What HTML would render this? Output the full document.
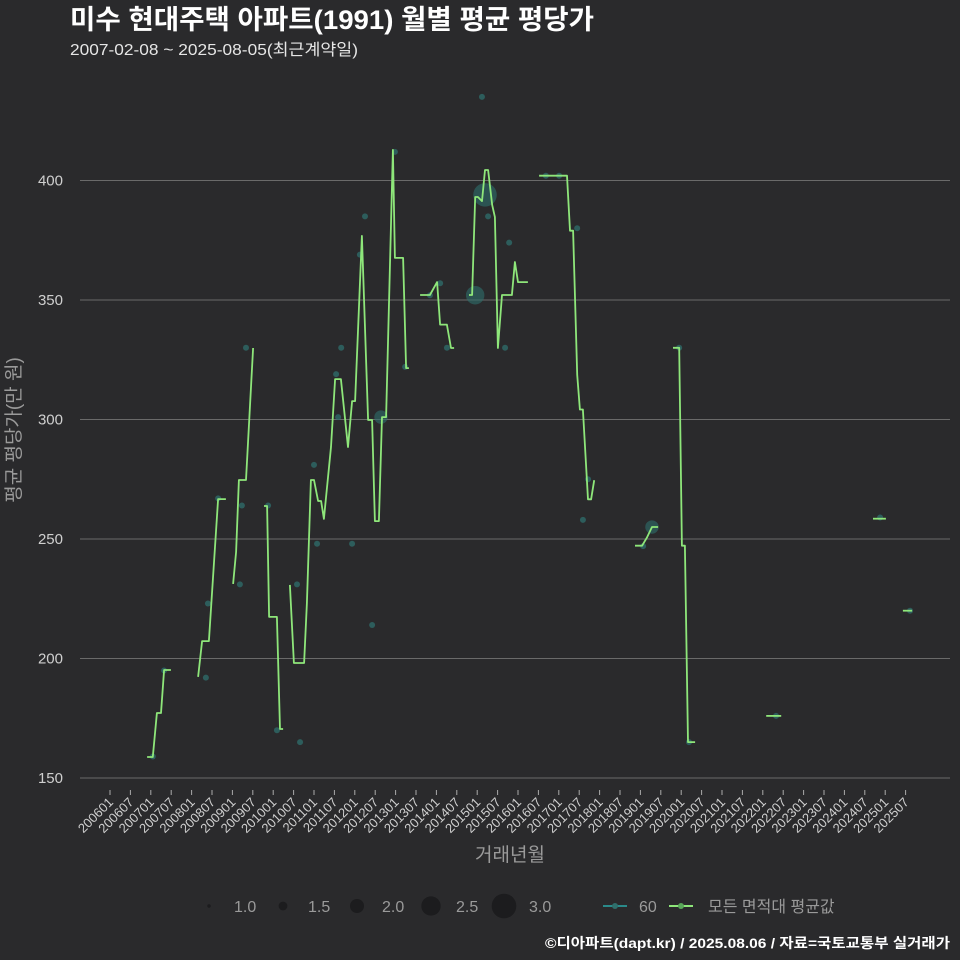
<!DOCTYPE html>
<html><head><meta charset="utf-8"><style>
body{margin:0;background:#2a2a2c;}
svg{display:block;font-family:"Liberation Sans","Noto Sans CJK KR",sans-serif;}
</style></head><body>
<svg id="chart" width="960" height="960" viewBox="0 0 960 960" xmlns="http://www.w3.org/2000/svg">
<rect width="960" height="960" fill="#2a2a2c"/>
<text x="70" y="29" fill="#ffffff" font-size="27" font-weight="bold" textLength="524" lengthAdjust="spacingAndGlyphs">미수 현대주택 아파트(1991) 월별 평균 평당가</text>
<text x="70" y="55" fill="#e6e6e6" font-size="16" textLength="288" lengthAdjust="spacingAndGlyphs">2007-02-08 ~ 2025-08-05(최근계약일)</text>
<g id="grid"></g>
<g id="yticks"></g>
<g id="xticks"></g>
<g id="dots"></g>
<g id="lines"></g>
<text x="20" y="430" fill="#9a9a9a" font-size="19" transform="rotate(-90 20 430)" text-anchor="middle">평균 평당가(만 원)</text>
<text x="510" y="861" fill="#9a9a9a" font-size="19" text-anchor="middle">거래년월</text>
<g id="legend"></g>
<text x="950" y="948" fill="#ffffff" font-size="14" font-weight="bold" text-anchor="end" textLength="405" lengthAdjust="spacingAndGlyphs">©디아파트(dapt.kr) / 2025.08.06 / 자료=국토교통부 실거래가</text>
</svg>
<script>
// months since 2006-01 ; null separates segments
const lineMonths=[10.9,12.6,13.8,15,15.9,17.9,null,25.9,27.1,29.1,31.8,34.1,null,36.2,37.1,37.9,40,42.1,null,45.3,46.2,46.8,49.1,50,50.9,null,
52.9,54.1,57.1,57.9,59.1,60,61.2,62.1,62.9,65,66.2,67.9,70,71.2,72.1,74.1,75.9,77.1,77.9,79.1,80,81.2,83.2,83.8,86.2,87.1,87.9,null,
91.2,94.1,96.2,97.1,99.1,100.3,101.2,null,105.6,106.5,107.4,108.2,109.4,110.3,111.2,112.4,113.2,114.1,115.3,118.2,119.1,120,122.9,null,
126.2,134.4,135.3,136.2,137.4,138.2,139.1,140.6,141.5,142.4,null,154.4,156.5,157.9,159.4,161.2,null,165.6,167.4,168.2,169.1,170,172.1,null,
193,197.4,null,224.4,228.2,null,233.2,235.9];
const lineValues=[158.8,158.8,177.2,177.2,195.2,195.2,null,192.3,207.3,207.3,266.7,266.7,null,231.2,244.6,274.7,274.7,329.9,null,263.8,263.8,217.4,217.4,170.5,170.5,null,
230.8,198.1,198.1,223.2,274.7,274.7,265.9,265.9,258.4,288.5,316.9,316.9,288.5,307.7,307.7,376.8,299.8,299.8,257.5,257.5,301,301,412.8,367.6,367.6,321.5,321.5,null,
352.1,352.1,357.5,339.7,339.7,329.9,329.9,null,352.1,352.1,393.1,393.1,391.4,404.4,404.4,389.7,384.7,329.9,352.1,352.1,365.9,357.5,357.5,null,
402,402,379,379,318.7,304.2,304.2,266.6,266.6,274.6,null,247.2,247.2,250.6,255,255,null,330,330,247.2,247.2,165,165,null,
176,176,null,258.5,258.5,null,220,220];
const dotMonths=[12.6,15.9,28.2,28.8,31.8,38.2,38.8,40,46.5,49.1,55,55.9,60,60.9,66.5,68,67.1,71.2,75,77.1,73.5,79.7,83.8,86.8,94.1,97.1,99.1,107.4,109.4,110.3,111.2,116.2,117.4,128.2,132.1,137.4,139.1,140.6,156.8,159.4,167.4,170.3,195.9,226.5,235.3];
const dotValues=[159,195,192,223,267,231,264,330,264,170,231,165,281,248,319,330,301,248,385,214,369,301,412,322,352,357,330,352,435,394,385,330,374,402,402,380,258,275,247,255,330,165,176,259,220];
const dotCounts=[1,1,1,1,1,1,1,1,1,1,1,1,1,1,1,1,1,1,1,1,1,2,1,1,1,1,1,2.5,1,3,1,1,1,1,1,1,1,1,1,2,1,1,1,1,1];
const yTicks=[150,200,250,300,350,400];
const xTickLabels=[];for(let y=2006;y<=2025;y++){xTickLabels.push(y+"01");xTickLabels.push(y+"07");}
const sizeLegend=[1.0,1.5,2.0,2.5,3.0];

const NS="http://www.w3.org/2000/svg";
const X=m=>110+m*3.4;
const Y=v=>778-(v-150)*2.39;
const R=c=>1.5+(c-1)*4.6;
function mk(tag,attrs,parent){const e=document.createElementNS(NS,tag);for(const k in attrs)e.setAttribute(k,attrs[k]);parent.appendChild(e);return e;}
const grid=document.getElementById('grid'),yt=document.getElementById('yticks'),xt=document.getElementById('xticks');
yTicks.forEach(v=>{
  const l=mk('line',{x1:80,x2:950,y1:Y(v),y2:Y(v),stroke:'#6a6a6a','stroke-width':1},grid);
  
  
  const t=mk('text',{x:63,y:Y(v)+5,fill:'#cfcfcf','font-size':15,'text-anchor':'end'},yt);
  t.textContent=v;
  
  
});
xTickLabels.forEach((lab,i)=>{
  const x=X(i*6);
  const tk=mk('line',{x1:x,x2:x,y1:790,y2:795,stroke:'#aaaaaa'},xt);
  
  
  const t=mk('text',{x:x+4,y:803,fill:'#cfcfcf','font-size':13,'text-anchor':'end',transform:`rotate(-45 ${x+4} 803)`},xt);
  t.textContent=lab;
  
  
});
const dots=document.getElementById('dots');
dotMonths.forEach((m,i)=>{
  const c=mk('circle',{cx:X(m),cy:Y(dotValues[i]),r:dotCounts[i]>1?R(dotCounts[i])*1.1:3,fill:'#2f6f6c','fill-opacity':dotCounts[i]>1?0.6:0.75},dots);
  
  
});
const lines=document.getElementById('lines');
let seg=[];
function flush(){if(seg.length>1){const p=mk('polyline',{points:seg.join(' '),fill:'none',stroke:'#8ee67a','stroke-width':1.8,'stroke-linejoin':'round'},lines);
  
  }seg=[];}
lineMonths.forEach((m,i)=>{if(m===null){flush();}else seg.push(X(m).toFixed(1)+','+Y(lineValues[i]).toFixed(1));});
flush();
const lg=document.getElementById('legend');
const lx=[209,283,357,431,504];
sizeLegend.forEach((s,i)=>{
  const c=mk('circle',{cx:lx[i],cy:906,r:R(s)*1.15,fill:'#1c1c1e'},lg);
  
  
  const t=mk('text',{x:lx[i]+25,y:912,fill:'#9a9a9a','font-size':16},lg);
  t.textContent=s.toFixed(1);
  
  
});
const e1=mk('line',{x1:603,x2:627,y1:906,y2:906,stroke:'#2a8a8a','stroke-width':2},lg);


const d1=mk('circle',{cx:615,cy:906,r:3,fill:'#2f6f6c'},lg);


const t1=mk('text',{x:639,y:912,fill:'#9a9a9a','font-size':16},lg);t1.textContent='60';


const e2=mk('line',{x1:669,x2:693,y1:906,y2:906,stroke:'#8ee67a','stroke-width':2},lg);


const d2=mk('circle',{cx:681,cy:906,r:3,fill:'#5aa85a'},lg);


const t2=mk('text',{x:708,y:912,fill:'#9a9a9a','font-size':16},lg);t2.textContent='모든 면적대 평균값';


</script>
</body></html>
